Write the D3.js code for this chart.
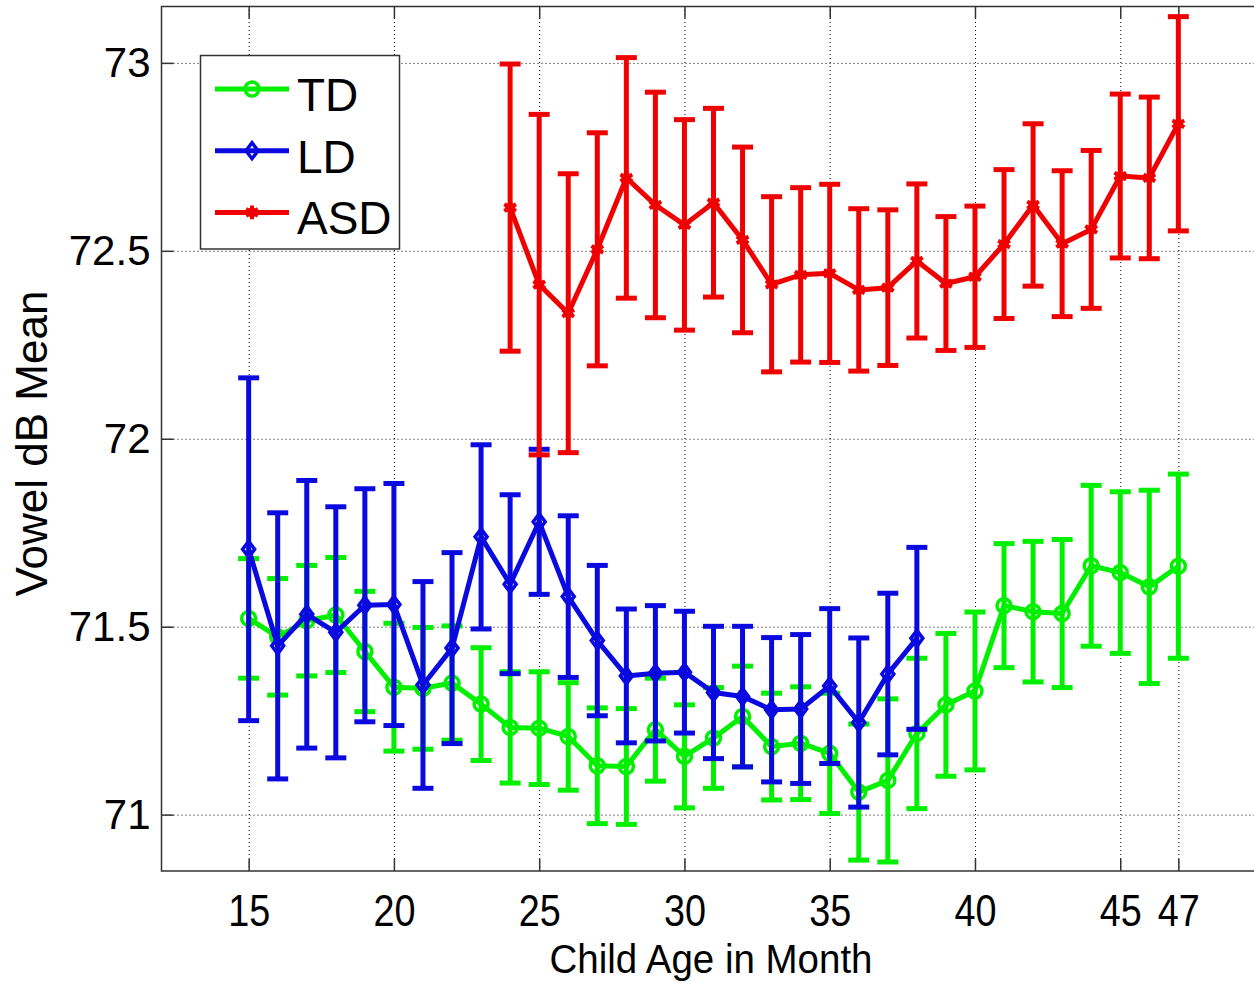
<!DOCTYPE html>
<html>
<head>
<meta charset="utf-8">
<script src="https://cdn.jsdelivr.net/npm/d3@7"></script>
<style>
  body { margin: 0; background: #fff; }
  svg { display: block; font-family: "Liberation Sans", Arial, sans-serif; }
  .grid line { stroke: #000; stroke-width: 1; stroke-dasharray: 1,3; }
  .grid .domain { display: none; }
  .axis .domain { display: none; }
  .axis line { stroke: #333; stroke-width: 1.5; }
</style>
</head>
<body>
<svg width="1254" height="982"></svg>
<script>
// months
var tdMonths = d3.range(15, 48);
var ldMonths = d3.range(15, 39);
var asdMonths = d3.range(24, 48);

// means and error half-widths
var tdMean = [71.522, 71.473, 71.516, 71.531, 71.434, 71.339, 71.336, 71.350, 71.294, 71.232, 71.230,
              71.208, 71.130, 71.128, 71.226, 71.155, 71.204, 71.261, 71.181, 71.190, 71.163, 71.060,
              71.091, 71.216, 71.292, 71.329, 71.556, 71.540, 71.535, 71.662, 71.644, 71.606, 71.661];
var tdErr = [0.159, 0.155, 0.147, 0.153, 0.160, 0.170, 0.162, 0.152, 0.150, 0.148, 0.150,
             0.143, 0.154, 0.154, 0.137, 0.137, 0.134, 0.134, 0.142, 0.150, 0.160, 0.181,
             0.217, 0.200, 0.190, 0.210, 0.165, 0.187, 0.197, 0.214, 0.215, 0.257, 0.245];

var ldMean = [71.706, 71.449, 71.533, 71.485, 71.557, 71.559, 71.345, 71.443, 71.739, 71.613, 71.779, 71.580,
              71.463, 71.369, 71.376, 71.379, 71.325, 71.314, 71.279, 71.281, 71.342, 71.245, 71.374, 71.469];
var ldErr = [0.456, 0.354, 0.356, 0.334, 0.310, 0.322, 0.275, 0.254, 0.245, 0.238, 0.193, 0.215,
             0.200, 0.178, 0.180, 0.162, 0.176, 0.187, 0.192, 0.198, 0.206, 0.225, 0.215, 0.242];

var asdMean = [72.615, 72.410, 72.334, 72.504, 72.694, 72.622, 72.569, 72.628, 72.529, 72.411, 72.436, 72.440,
               72.396, 72.402, 72.473, 72.413, 72.431, 72.518, 72.622, 72.519, 72.557, 72.699, 72.694, 72.838];
var asdErr = [0.382, 0.453, 0.371, 0.310, 0.320, 0.300, 0.280, 0.251, 0.247, 0.233, 0.232, 0.237,
              0.216, 0.207, 0.205, 0.178, 0.188, 0.198, 0.216, 0.194, 0.210, 0.218, 0.215, 0.285];

var xTicks = [15, 20, 25, 30, 35, 40, 45, 47];
var yTicks = [71, 71.5, 72, 72.5, 73];

var svg = d3.select("svg");

// plot box (right edge falls outside the picture)
var box = { left: 161.5, right: 1265.5, top: 6.5, bottom: 871 };

var x = d3.scaleLinear().domain([12, 50]).range([box.left, box.right]);
var y = d3.scaleLinear().domain([70.85, 73.15]).range([box.bottom, box.top]);

// grid lines
svg.append("g")
  .attr("class", "grid")
  .attr("transform", "translate(" + box.left + ",0)")
  .call(d3.axisLeft(y).tickValues(yTicks).tickSize(-(box.right - box.left)).tickFormat(""));

svg.append("g")
  .attr("class", "grid")
  .attr("transform", "translate(0," + box.bottom + ")")
  .call(d3.axisBottom(x).tickValues(xTicks).tickSize(-(box.bottom - box.top)).tickFormat(""));

// frame
svg.append("rect")
  .attr("x", box.left).attr("y", box.top)
  .attr("width", box.right - box.left).attr("height", box.bottom - box.top)
  .attr("fill", "none").attr("stroke", "#333").attr("stroke-width", 1.5);

// axes with inward ticks
var xAxis = svg.append("g")
  .attr("class", "axis")
  .attr("transform", "translate(0," + box.bottom + ")")
  .call(d3.axisBottom(x).tickValues(xTicks).tickSize(-12).tickPadding(24).tickFormat(d3.format("d")));
xAxis.selectAll("text")
  .attr("font-size", 44)
  .attr("fill", "#000")
  .attr("textLength", 42)
  .attr("lengthAdjust", "spacingAndGlyphs");

svg.append("g")
  .attr("class", "axis")
  .attr("transform", "translate(0," + box.top + ")")
  .call(d3.axisTop(x).tickValues(xTicks).tickSize(-12).tickFormat(""));

var yAxis = svg.append("g")
  .attr("class", "axis")
  .attr("transform", "translate(" + box.left + ",0)")
  .call(d3.axisLeft(y).tickValues(yTicks).tickSize(-12).tickPadding(11).tickFormat(d3.format("")));
yAxis.selectAll("text")
  .attr("font-size", 42)
  .attr("fill", "#000");

// series
var series = [
  { name: "TD", months: tdMonths, mean: tdMean, err: tdErr, color: "#00f000", marker: "circle" },
  { name: "LD", months: ldMonths, mean: ldMean, err: ldErr, color: "#0a0ae0", marker: "diamond" },
  { name: "ASD", months: asdMonths, mean: asdMean, err: asdErr, color: "#f00000", marker: "star" }
];

var capHalf = 10.5;
var lw = 5;

function drawMarker(g, s, cx, cy) {
  if (s.marker === "circle") {
    g.append("circle").attr("cx", cx).attr("cy", cy).attr("r", 7)
      .attr("fill", "none").attr("stroke", s.color).attr("stroke-width", 3.5);
  } else if (s.marker === "diamond") {
    g.append("path")
      .attr("d", "M" + cx + "," + (cy - 8) + "L" + (cx + 6) + "," + cy + "L" + cx + "," + (cy + 8) + "L" + (cx - 6) + "," + cy + "Z")
      .attr("fill", "none").attr("stroke", s.color).attr("stroke-width", 3.5);
  } else {
    g.append("path")
      .attr("transform", "translate(" + cx + "," + cy + ")")
      .attr("d", d3.symbol(d3.symbolAsterisk, 130)())
      .attr("fill", "none").attr("stroke", s.color).attr("stroke-width", 4);
    g.append("circle").attr("cx", cx).attr("cy", cy).attr("r", 5).attr("fill", s.color);
  }
}

series.forEach(function (s) {
  var pts = s.months.map(function (m, i) { return { m: m, v: s.mean[i], e: s.err[i] }; });
  var g = svg.append("g");

  // error bars
  var eb = g.selectAll(".eb").data(pts).enter().append("g");
  eb.append("line")
    .attr("x1", d => x(d.m)).attr("x2", d => x(d.m))
    .attr("y1", d => y(d.v + d.e)).attr("y2", d => y(d.v - d.e))
    .attr("stroke", s.color).attr("stroke-width", lw);
  eb.append("line")
    .attr("x1", d => x(d.m) - capHalf).attr("x2", d => x(d.m) + capHalf)
    .attr("y1", d => y(d.v + d.e)).attr("y2", d => y(d.v + d.e))
    .attr("stroke", s.color).attr("stroke-width", lw);
  eb.append("line")
    .attr("x1", d => x(d.m) - capHalf).attr("x2", d => x(d.m) + capHalf)
    .attr("y1", d => y(d.v - d.e)).attr("y2", d => y(d.v - d.e))
    .attr("stroke", s.color).attr("stroke-width", lw);

  // line
  g.append("path")
    .datum(pts)
    .attr("fill", "none")
    .attr("stroke", s.color)
    .attr("stroke-width", lw)
    .attr("stroke-linejoin", "round")
    .attr("d", d3.line().x(d => x(d.m)).y(d => y(d.v)));

  pts.forEach(function (d) { drawMarker(g, s, x(d.m), y(d.v)); });
});

// legend
var leg = svg.append("g");
leg.append("rect")
  .attr("x", 200.5).attr("y", 55.5).attr("width", 199).attr("height", 193.5)
  .attr("fill", "#fff").attr("stroke", "#333").attr("stroke-width", 1.5);
series.forEach(function (s, i) {
  var ry = 89 + i * 61.7;
  leg.append("line").attr("x1", 215).attr("x2", 289).attr("y1", ry).attr("y2", ry)
    .attr("stroke", s.color).attr("stroke-width", lw);
  drawMarker(leg, s, 252, ry);
  leg.append("text").attr("x", 297).attr("y", ry + 22)
    .attr("font-size", 46).attr("fill", "#000").text(s.name);
});

// axis titles
svg.append("text")
  .attr("x", 711).attr("y", 973)
  .attr("text-anchor", "middle")
  .attr("font-size", 40)
  .attr("textLength", 323)
  .attr("lengthAdjust", "spacingAndGlyphs")
  .text("Child Age in Month");

svg.append("text")
  .attr("transform", "translate(47,443.5) rotate(-90)")
  .attr("text-anchor", "middle")
  .attr("font-size", 44)
  .text("Vowel dB Mean");
</script>
</body>
</html>
